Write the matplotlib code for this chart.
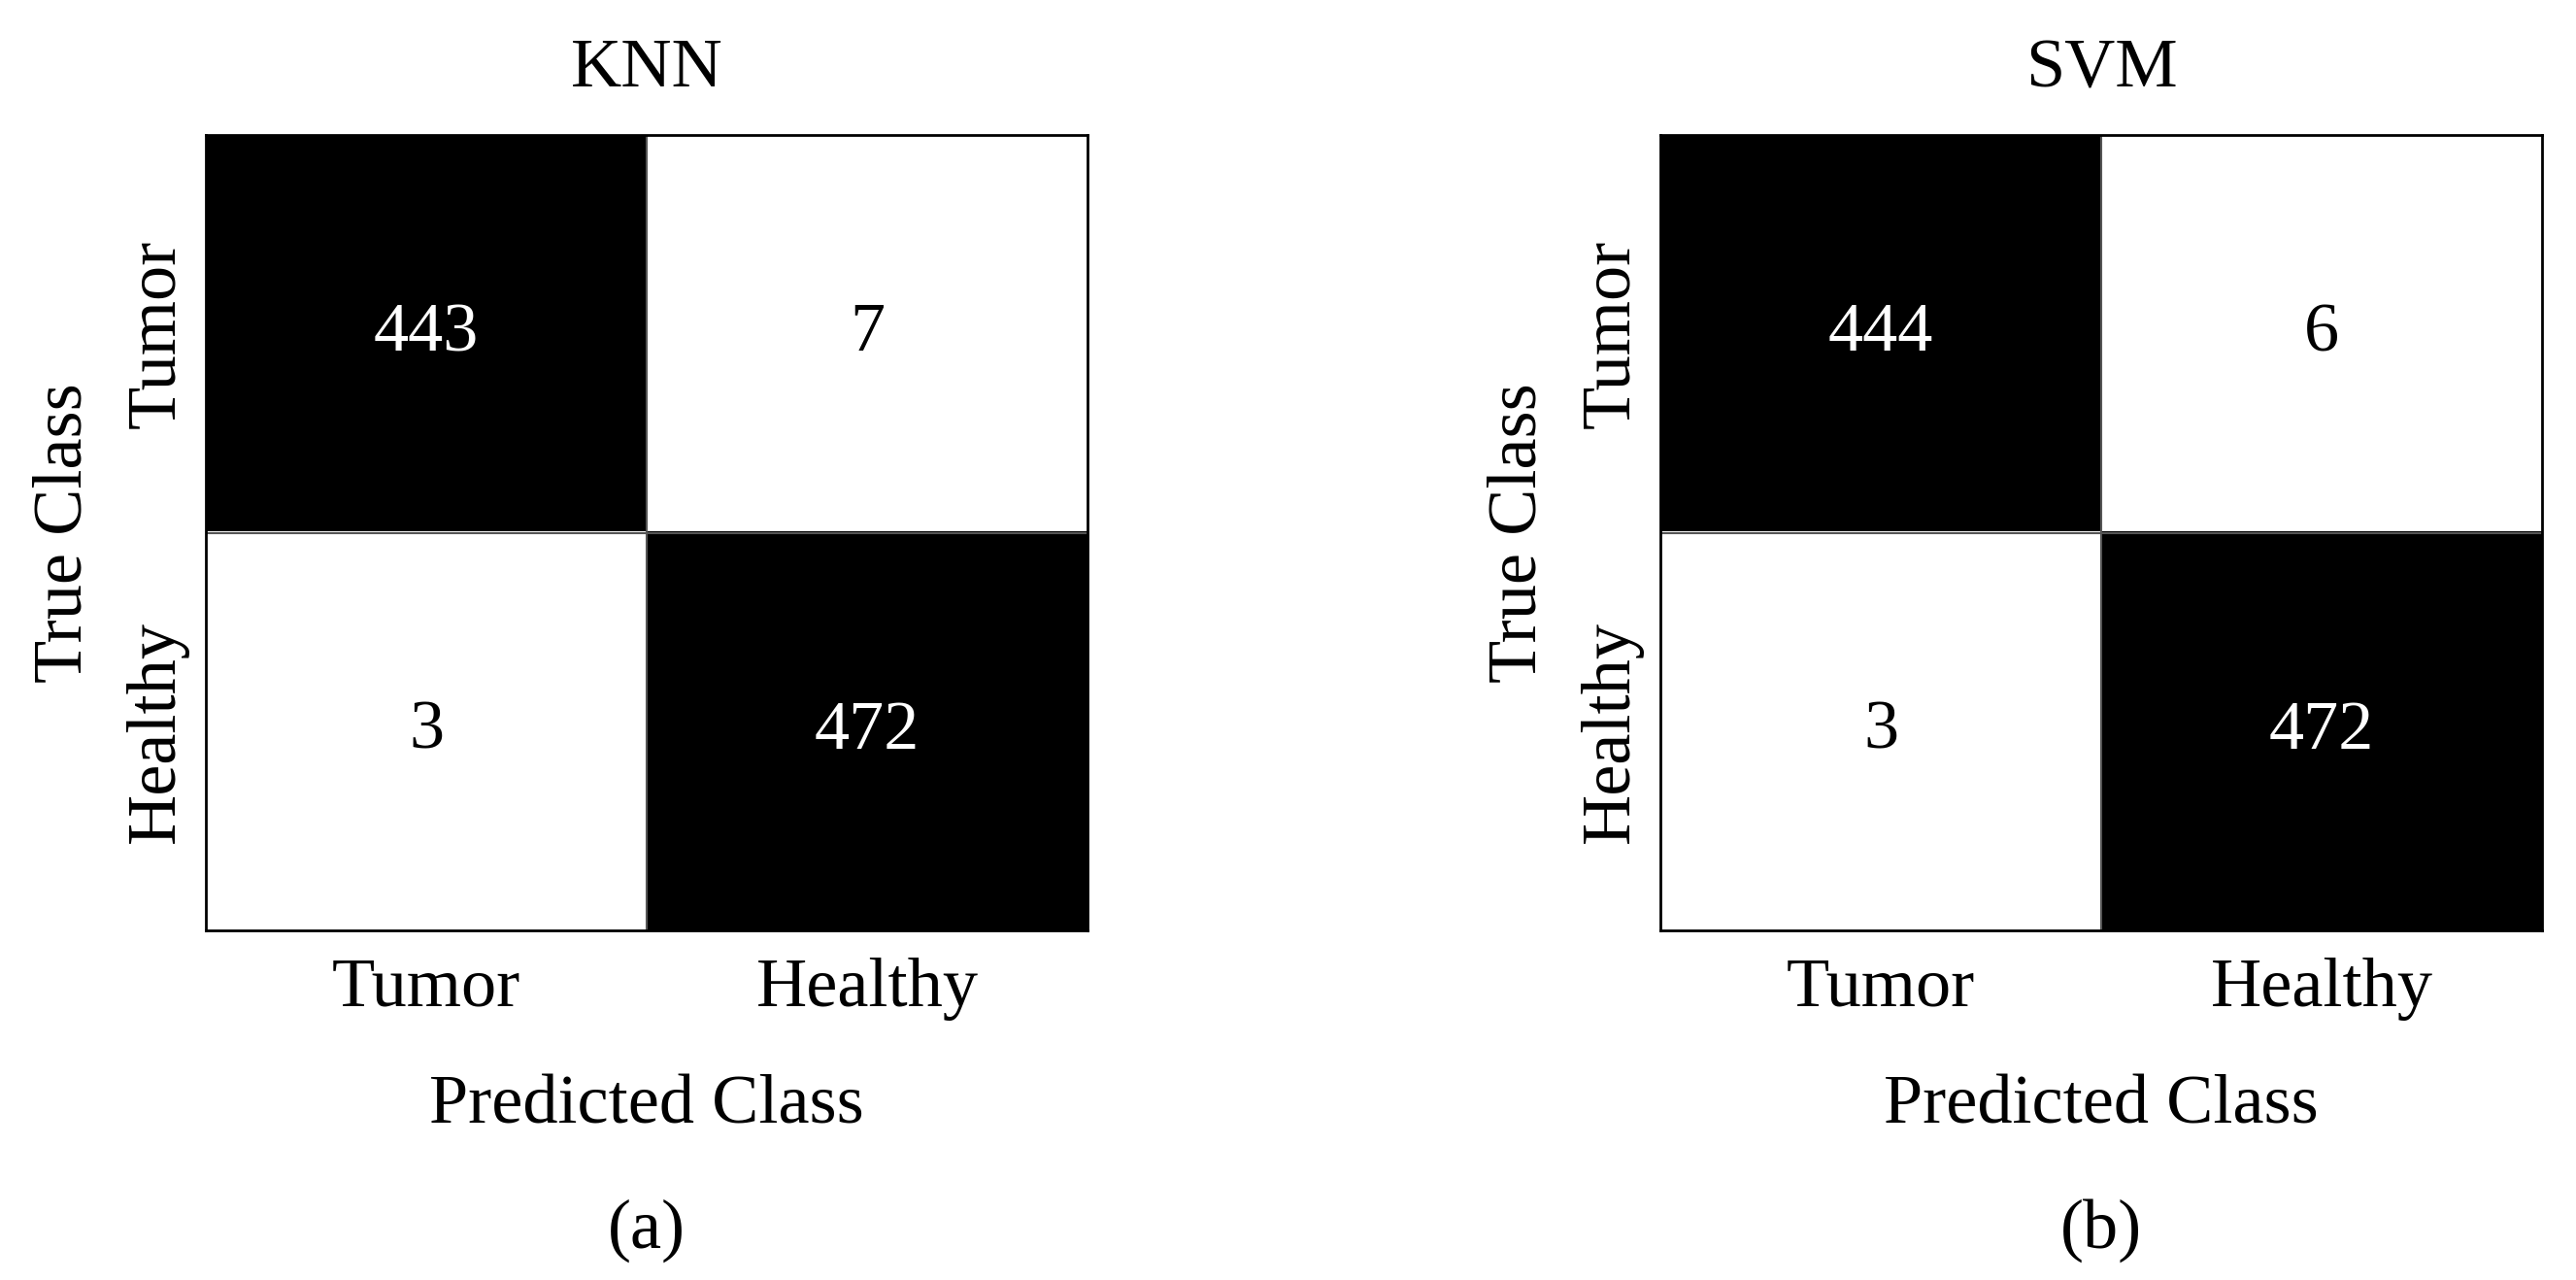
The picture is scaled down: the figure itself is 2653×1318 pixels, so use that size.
import matplotlib.pyplot as plt
import numpy as np
from matplotlib.colors import ListedColormap

# Confusion matrix data (rows: true class, cols: predicted class)
class_names = ['Tumor', 'Healthy']
model_names = ['KNN', 'SVM']
panel_labels = ['(a)', '(b)']
knn_matrix = [[443, 7],
              [3, 472]]
svm_matrix = [[444, 6],
              [3, 472]]

plt.rcParams['font.family'] = ['Liberation Serif', 'DejaVu Serif']

fig = plt.figure(figsize=(26.53, 13.18), dpi=100)
lefts = [0.0799, 0.6446]
bw = ['white', 'black']

for left, name, label, cm in zip(lefts, model_names, panel_labels, [knn_matrix, svm_matrix]):
    cm = np.array(cm)
    ax = fig.add_axes([left, 0.2731, 0.3423, 0.6214])
    dark = (cm > cm.max() / 2).astype(int)
    ax.imshow(dark, cmap=ListedColormap(bw), vmin=0, vmax=1, aspect='auto')
    for i in range(cm.shape[0]):
        for j in range(cm.shape[1]):
            ax.text(j, i, str(cm[i, j]), ha='center', va='center', fontsize=52,
                    color='white' if dark[i, j] else 'black')
    # thin cell borders
    ax.axhline(0.5, color='#555555', linewidth=1.5)
    ax.axvline(0.5, color='#555555', linewidth=1.5)
    ax.set_xticks(range(len(class_names)))
    ax.set_yticks(range(len(class_names)))
    ax.set_xticklabels(class_names, fontsize=52)
    ax.set_yticklabels(class_names, fontsize=52, rotation=90, va='center')
    ax.tick_params(axis='x', length=0, pad=20)
    ax.tick_params(axis='y', length=0, pad=13)
    ax.set_xlabel('Predicted Class', fontsize=52, labelpad=40)
    ax.set_ylabel('True Class', fontsize=52, labelpad=22)
    ax.set_title(name, fontsize=52, pad=36)
    for s in ax.spines.values():
        s.set_linewidth(2)
    fig.text(left + 0.3423 / 2, 1 - 1267 / 1318, label, ha='center', va='center', fontsize=52)

plt.savefig('out.png', dpi=100)
